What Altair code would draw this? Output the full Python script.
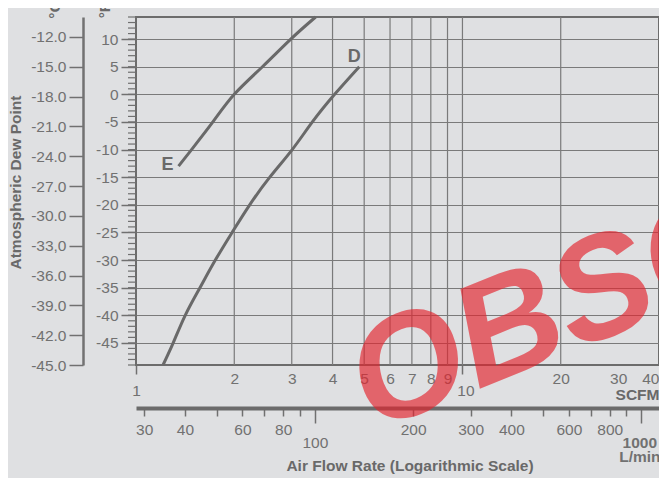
import altair as alt
import pandas as pd

# ---- data ----
e_scfm = [1.35, 1.48, 1.72, 2.0, 2.44, 2.98, 3.55]
e_degf = [-13, -10, -5, 0, 5, 10, 14]
d_scfm = [1.21, 1.30, 1.415, 1.57, 1.75, 1.97, 2.23, 2.57, 3.01, 3.47, 4.06, 4.83]
d_degf = [-49, -45, -40, -35, -30, -25, -20, -15, -10, -5, 0, 5]

scfm_ticks = [1, 2, 3, 4, 5, 6, 7, 8, 9, 10, 20, 30, 40]
scfm_grid = [2, 3, 4, 5, 6, 7, 8, 9, 10, 20]
lpm_ticks = [30, 40, 50, 60, 70, 80, 90, 100, 200, 300, 400, 500, 600, 700, 800, 900, 1000]
lpm_labels = ["30", "40", "", "60", "", "80", "", "100", "200", "300", "400", "", "600", "", "800", "", ["1000", "L/min"]]
degf_major = [-45, -40, -35, -30, -25, -20, -15, -10, -5, 0, 5, 10]
degf_minor = list(range(-49, 15))
degc_ticks = [-12, -15, -18, -21, -24, -27, -30, -33, -36, -39, -42, -45]
degc_labels = ["-12.0", "-15.0", "-18.0", "-21.0", "-24.0", "-27.0", "-30.0", "-33,0", "-36.0", "-39.0", "-42.0", "-45.0"]

SCFM_DOMAIN = [1, 40]
DEGF_DOMAIN = [-49, 14]
DEGC_DOMAIN = [-45, -10]
LPM_PER_SCFM = 28.3168

FONT = "Liberation Sans"
GRAY = "#717171"
DARK = "#696969"
LINE = "#7a7a7a"
BG = "#dfe0e2"

curves = pd.DataFrame({
    "scfm": e_scfm + d_scfm,
    "degf": e_degf + d_degf,
    "curve": ["E"] * len(e_scfm) + ["D"] * len(d_scfm),
})


def js_list(items):
    out = []
    for it in items:
        if isinstance(it, list):
            out.append(js_list(it))
        elif isinstance(it, str):
            out.append("'" + it + "'")
        else:
            out.append(str(it))
    return "[" + ",".join(out) + "]"


def scfm_scale():
    return alt.Scale(type="log", domain=SCFM_DOMAIN, nice=False)


def degf_scale():
    return alt.Scale(domain=DEGF_DOMAIN, nice=False, zero=False)


x_scfm = alt.X(
    "scfm:Q",
    scale=scfm_scale(),
    axis=alt.Axis(
        orient="bottom",
        values=scfm_ticks,
        labelExpr="'' + datum.value",
        tickSize=alt.ExprRef(expr="datum.value == 1 || datum.value == 10 ? 9 : 0"),
        labelPadding=alt.ExprRef(expr="datum.value == 1 || datum.value == 10 ? 9 : 6"),
        labelOffset=alt.ExprRef(expr="datum.value == 10 ? 3 : 0"),
        labelAlign=alt.ExprRef(expr="datum.value == 40 ? 'right' : 'center'"),
        grid=False,
        domain=False,
        labelFlush=False,
        labelOverlap=False,
        title="SCFM",
        titleX=523,
        titleY=29.5,
        titleAlign="right",
        titleBaseline="middle",
        zindex=0,
    ),
)

y_degf = alt.Y(
    "degf:Q",
    scale=degf_scale(),
    axis=alt.Axis(
        orient="left",
        values=degf_major,
        labelExpr="'' + datum.value",
        tickSize=15,
        labelPadding=3,
        grid=True,
        domain=False,
        labelFlush=False,
        labelOverlap=False,
        title="°F",
        titleAngle=270,
        titleX=-32,
        titleY=-7,
        titleAlign="center",
        titleBaseline="middle",
        zindex=0,
    ),
)

# vertical grid lines (drawn through the SCFM scale)
vgrid = alt.Chart(pd.DataFrame({"g": scfm_grid})).mark_rule(
    color=LINE, strokeWidth=1.2
).encode(x=alt.X("g:Q", scale=scfm_scale(), axis=None))

# minor 1 °F ticks on the left edge
minor = alt.Chart(pd.DataFrame({"m": degf_minor})).mark_rule(
    color="#707070", strokeWidth=1.2
).encode(
    y=alt.Y("m:Q", scale=degf_scale(), axis=None),
    x=alt.value(-8), x2=alt.value(0),
)

curve_layer = alt.Chart(curves).mark_line(
    color=DARK, strokeWidth=3, interpolate="natural"
).encode(x=x_scfm, y=y_degf, detail="curve:N")

e_lab = pd.DataFrame({"scfm": [e_scfm[0]], "degf": [e_degf[0]], "name": ["E"]})
d_lab = pd.DataFrame({"scfm": [d_scfm[-1]], "degf": [d_degf[-1]], "name": ["D"]})

e_text = alt.Chart(e_lab).mark_text(
    font=FONT, fontSize=18, fontWeight="bold", color=DARK,
    align="right", baseline="middle", dx=-5, dy=-1,
).encode(
    x=alt.X("scfm:Q", scale=scfm_scale(), axis=None),
    y=alt.Y("degf:Q", scale=degf_scale(), axis=None),
    text="name:N",
)

d_text = alt.Chart(d_lab).mark_text(
    font=FONT, fontSize=18, fontWeight="bold", color=DARK,
    align="center", baseline="alphabetic", dx=-5, dy=-5,
).encode(
    x=alt.X("scfm:Q", scale=scfm_scale(), axis=None),
    y=alt.Y("degf:Q", scale=degf_scale(), axis=None),
    text="name:N",
)

title_df = pd.DataFrame({"t": ["MSD-03-KATD & MSD-03-KATE"]})
title_text = alt.Chart(title_df).mark_text(
    font=FONT, fontSize=20.5, fontWeight="bold", color=DARK,
    align="right", baseline="alphabetic",
).encode(x=alt.value(522), y=alt.value(-10), text="t:N")

degc_unit_df = pd.DataFrame({"t": ["°C"]})
degc_unit = alt.Chart(degc_unit_df).mark_text(
    font=FONT, fontSize=15.5, fontWeight="bold", color=DARK,
    align="center", baseline="middle", angle=270,
).encode(x=alt.value(-81), y=alt.value(-7), text="t:N")

wm_df = pd.DataFrame({"t": ["OBSOLETE"]})
watermark = alt.Chart(wm_df).mark_text(
    font="Liberation Sans Narrow, Liberation Sans", fontSize=145,
    fontWeight="bold", fontStyle="italic",
    color="#e4232d", opacity=0.65, angle=338,
    align="left", baseline="alphabetic",
).encode(x=alt.value(237), y=alt.value(415), text="t:N")

lpm_df = pd.DataFrame({"lpm": lpm_ticks})
lpm_layer = alt.Chart(lpm_df).mark_point(opacity=0).encode(
    x=alt.X(
        "lpm:Q",
        scale=alt.Scale(type="log", domain=[SCFM_DOMAIN[0] * LPM_PER_SCFM, SCFM_DOMAIN[1] * LPM_PER_SCFM], nice=False),
        axis=alt.Axis(
            orient="bottom",
            offset=43,
            values=lpm_ticks,
            labelExpr=js_list(lpm_labels) + "[indexof(" + js_list(lpm_ticks) + ", datum.value)]",
            tickSize=alt.ExprRef(expr="datum.value == 100 || datum.value == 1000 ? 15 : 8"),
            labelPadding=alt.ExprRef(expr="datum.value == 100 || datum.value == 1000 ? 12 : 6"),
            labelOffset=alt.ExprRef(expr="datum.value == 1000 ? -2 : 0"),
            labelFontWeight=alt.ExprRef(expr="datum.value == 1000 ? 'bold' : 'normal'"),
            labelLineHeight=14,
            labelFlush=False,
            labelOverlap=False,
            grid=False,
            domain=True,
            domainWidth=4,
            domainColor="#6b6b6b",
            title="Air Flow Rate (Logarithmic Scale)",
            titleX=273.5,
            titleY=57,
            titleAlign="center",
            titleBaseline="middle",
            zindex=0,
        ),
    )
)

degc_df = pd.DataFrame({"degc": degc_ticks})
degc_layer = alt.Chart(degc_df).mark_point(opacity=0).encode(
    y=alt.Y(
        "degc:Q",
        scale=alt.Scale(domain=DEGC_DOMAIN, nice=False, zero=False),
        axis=alt.Axis(
            orient="left",
            offset=53,
            values=degc_ticks,
            labelExpr=js_list(degc_labels) + "[indexof(" + js_list(degc_ticks) + ", datum.value)]",
            tickSize=14,
            labelPadding=3,
            labelFlush=False,
            labelOverlap=False,
            grid=False,
            domain=True,
            domainWidth=2.5,
            domainColor="#727272",
            title="Atmospheric Dew Point",
            titleAngle=270,
            titleX=-68,
            titleY=165,
            titleAlign="center",
            titleBaseline="middle",
            zindex=0,
        ),
    )
)

chart = alt.layer(
    vgrid, minor, curve_layer, e_text, d_text, title_text, degc_unit,
    lpm_layer, degc_layer, watermark,
).resolve_scale(
    x="independent", y="independent"
).properties(
    width=523,
    height=348,
    padding={"left": 128, "top": 9, "right": 0, "bottom": 113},
    autosize=alt.AutoSizeParams(type="none"),
    background=BG,
).configure_view(
    stroke="#6c6c6c", strokeWidth=2, fill=BG
).configure_axis(
    labelFont=FONT, labelFontSize=15.5, labelColor=GRAY,
    titleFont=FONT, titleFontSize=15.5, titleFontWeight="bold", titleColor=DARK,
    tickColor="#707070", tickWidth=1.5,
    gridColor=LINE, gridWidth=1.2,
)

chart.save("out.html", embed_options={"renderer": "svg", "actions": False})
